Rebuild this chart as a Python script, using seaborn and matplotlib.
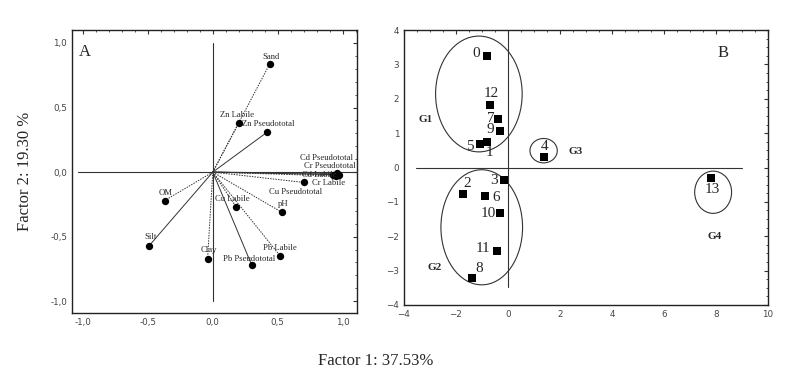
import numpy as np
import pandas as pd
import matplotlib
matplotlib.use("Agg")
import matplotlib.pyplot as plt
from matplotlib.patches import Ellipse
from matplotlib.ticker import MultipleLocator, FuncFormatter
import seaborn as sns

# ---------------- data: panel A (loadings) ----------------
var_names = ["Sand", "Zn Labile", "Zn Pseudototal", "Cd Pseudototal", "Cr Pseudototal",
             "Cd Labile", "Cr Labile", "Cu Pseudototal", "OM", "Silt", "Cu Labile",
             "pH", "Clay", "Pb Labile", "Pb Pseudototal"]
var_f1 = [0.44, 0.20, 0.42, 0.96, 0.97, 0.95, 0.93, 0.70, -0.37, -0.49, 0.18,
          0.53, -0.04, 0.52, 0.30]
var_f2 = [0.84, 0.38, 0.31, -0.01, -0.02, -0.03, -0.02, -0.08, -0.22, -0.57, -0.27,
          -0.31, -0.67, -0.65, -0.72]
var_solid = [False, False, True, True, True, False, False, False, False, True, False,
             False, False, False, True]
# label anchor (data coords); right-aligned when x > 0.8, centred otherwise
var_lab_x = [0.45, 0.19, 0.43, 1.08, 1.10, 0.95, 1.02, 0.84, -0.36, -0.48, 0.15,
             0.54, -0.03, 0.52, 0.28]
var_lab_y = [0.89, 0.44, 0.37, 0.11, 0.05, -0.02, -0.085, -0.155, -0.16, -0.50, -0.21,
             -0.25, -0.60, -0.59, -0.67]

# ---------------- data: panel B (scores) ----------------
obs_ids = ["0", "1", "2", "3", "4", "5", "6", "7", "8", "9", "10", "11", "12", "13"]
obs_f1 = [-0.80, -0.80, -1.72, -0.17, 1.39, -1.06, -0.87, -0.39, -1.37, -0.29,
          -0.29, -0.43, -0.71, 7.81]
obs_f2 = [3.25, 0.75, -0.78, -0.36, 0.31, 0.68, -0.82, 1.40, -3.22, 1.07,
          -1.31, -2.42, 1.82, -0.30]
obs_lab_x = [-1.22, -0.71, -1.56, -0.52, 1.42, -1.48, -0.46, -0.65, -1.12, -0.68,
             -0.75, -0.97, -0.65, 7.85]
obs_lab_y = [3.33, 0.45, -0.46, -0.38, 0.62, 0.60, -0.88, 1.44, -2.93, 1.11,
             -1.33, -2.35, 2.14, -0.63]

group_names = ["G1", "G2", "G3", "G4"]
group_lab_x = [-3.16, -2.81, 2.62, 7.96]
group_lab_y = [1.41, -2.90, 0.46, -2.01]
ell_cx = [-1.12, -1.01, 1.37, 7.89]
ell_cy = [2.14, -1.74, 0.49, -0.72]
ell_w = [3.33, 3.14, 1.05, 1.42]
ell_h = [3.37, 3.35, 0.71, 1.23]

df_a = pd.DataFrame({"f1": var_f1, "f2": var_f2})
df_b = pd.DataFrame({"f1": obs_f1, "f2": obs_f2})

sns.set_style("white")
serif = ["Liberation Serif", "DejaVu Serif"]

fig = plt.figure(figsize=(8, 3.76), dpi=100)
ax_a = fig.add_axes([0.09, 0.168, 0.356, 0.752])
ax_b = fig.add_axes([0.505, 0.189, 0.455, 0.731])


def style_axes(ax):
    for sp in ax.spines.values():
        sp.set_color("#222222")
        sp.set_linewidth(1.0)
    ax.tick_params(which="both", direction="in", top=True, right=True,
                   color="#333333", labelsize=6.3, labelcolor="#444444")
    ax.tick_params(which="major", length=3)
    ax.tick_params(which="minor", length=1.5)


# ---------------- panel A ----------------
ax_a.plot([-1.04, 1.1], [0, 0], color="#333333", lw=0.8, zorder=1)
ax_a.plot([0, 0], [-1.0, 1.0], color="#333333", lw=0.8, zorder=1)
for x, y, solid in zip(var_f1, var_f2, var_solid):
    ax_a.plot([0, x], [0, y], color="#333333", lw=0.7,
              linestyle="-" if solid else (0, (1.5, 1.2)), zorder=2)
sns.scatterplot(data=df_a, x="f1", y="f2", ax=ax_a, color="black", s=28,
                edgecolor="black", linewidth=0, zorder=3, legend=False)
for name, lx, ly in zip(var_names, var_lab_x, var_lab_y):
    ax_a.text(lx, ly, name, fontsize=6.2, family=serif, ha="right" if lx > 0.8 else "center",
              va="center", zorder=4)
ax_a.text(-1.03, 0.93, "A", fontsize=12, family=serif, va="center")
ax_a.set_xlim(-1.085, 1.11)
ax_a.set_ylim(-1.09, 1.10)
ax_a.xaxis.set_major_locator(MultipleLocator(0.5))
ax_a.yaxis.set_major_locator(MultipleLocator(0.5))
ax_a.xaxis.set_minor_locator(MultipleLocator(0.1))
ax_a.yaxis.set_minor_locator(MultipleLocator(0.1))
comma = FuncFormatter(lambda v, p: f"{v:.1f}".replace(".", ",").replace("-0,0", "0,0"))
ax_a.xaxis.set_major_formatter(comma)
ax_a.yaxis.set_major_formatter(comma)
ax_a.set_xlabel("")
ax_a.set_ylabel("Factor 2: 19.30 %", fontsize=12, family=serif, labelpad=12)
style_axes(ax_a)

# ---------------- panel B ----------------
ax_b.plot([-3.55, 9.0], [0, 0], color="#333333", lw=0.8, zorder=1)
ax_b.plot([0, 0], [-3.47, 3.95], color="#333333", lw=0.8, zorder=1)
sns.scatterplot(data=df_b, x="f1", y="f2", ax=ax_b, color="black", marker="s", s=30,
                edgecolor="black", linewidth=0, zorder=3, legend=False)
for name, lx, ly in zip(obs_ids, obs_lab_x, obs_lab_y):
    ax_b.text(lx, ly, name, fontsize=11, family=serif, ha="center", va="center", zorder=4)
for cx, cy, w, h in zip(ell_cx, ell_cy, ell_w, ell_h):
    ax_b.add_patch(Ellipse((cx, cy), w, h, fill=False, edgecolor="#333333", lw=0.8))
for name, lx, ly in zip(group_names, group_lab_x, group_lab_y):
    ax_b.text(lx, ly, name, fontsize=8, family=serif, fontweight="bold",
              ha="center", va="center")
ax_b.text(8.05, 3.33, "B", fontsize=12, family=serif, va="center")
ax_b.set_xlim(-4, 10)
ax_b.set_ylim(-4, 4)
ax_b.xaxis.set_major_locator(MultipleLocator(2))
ax_b.yaxis.set_major_locator(MultipleLocator(1))
ax_b.xaxis.set_minor_locator(MultipleLocator(0.5))
ax_b.yaxis.set_minor_locator(MultipleLocator(0.25))
ax_b.set_xlabel("")
ax_b.set_ylabel("")
style_axes(ax_b)

fig.text(0.47, 0.03, "Factor 1: 37.53%", fontsize=12, family=serif, ha="center")

fig.savefig("out.png", dpi=100)
